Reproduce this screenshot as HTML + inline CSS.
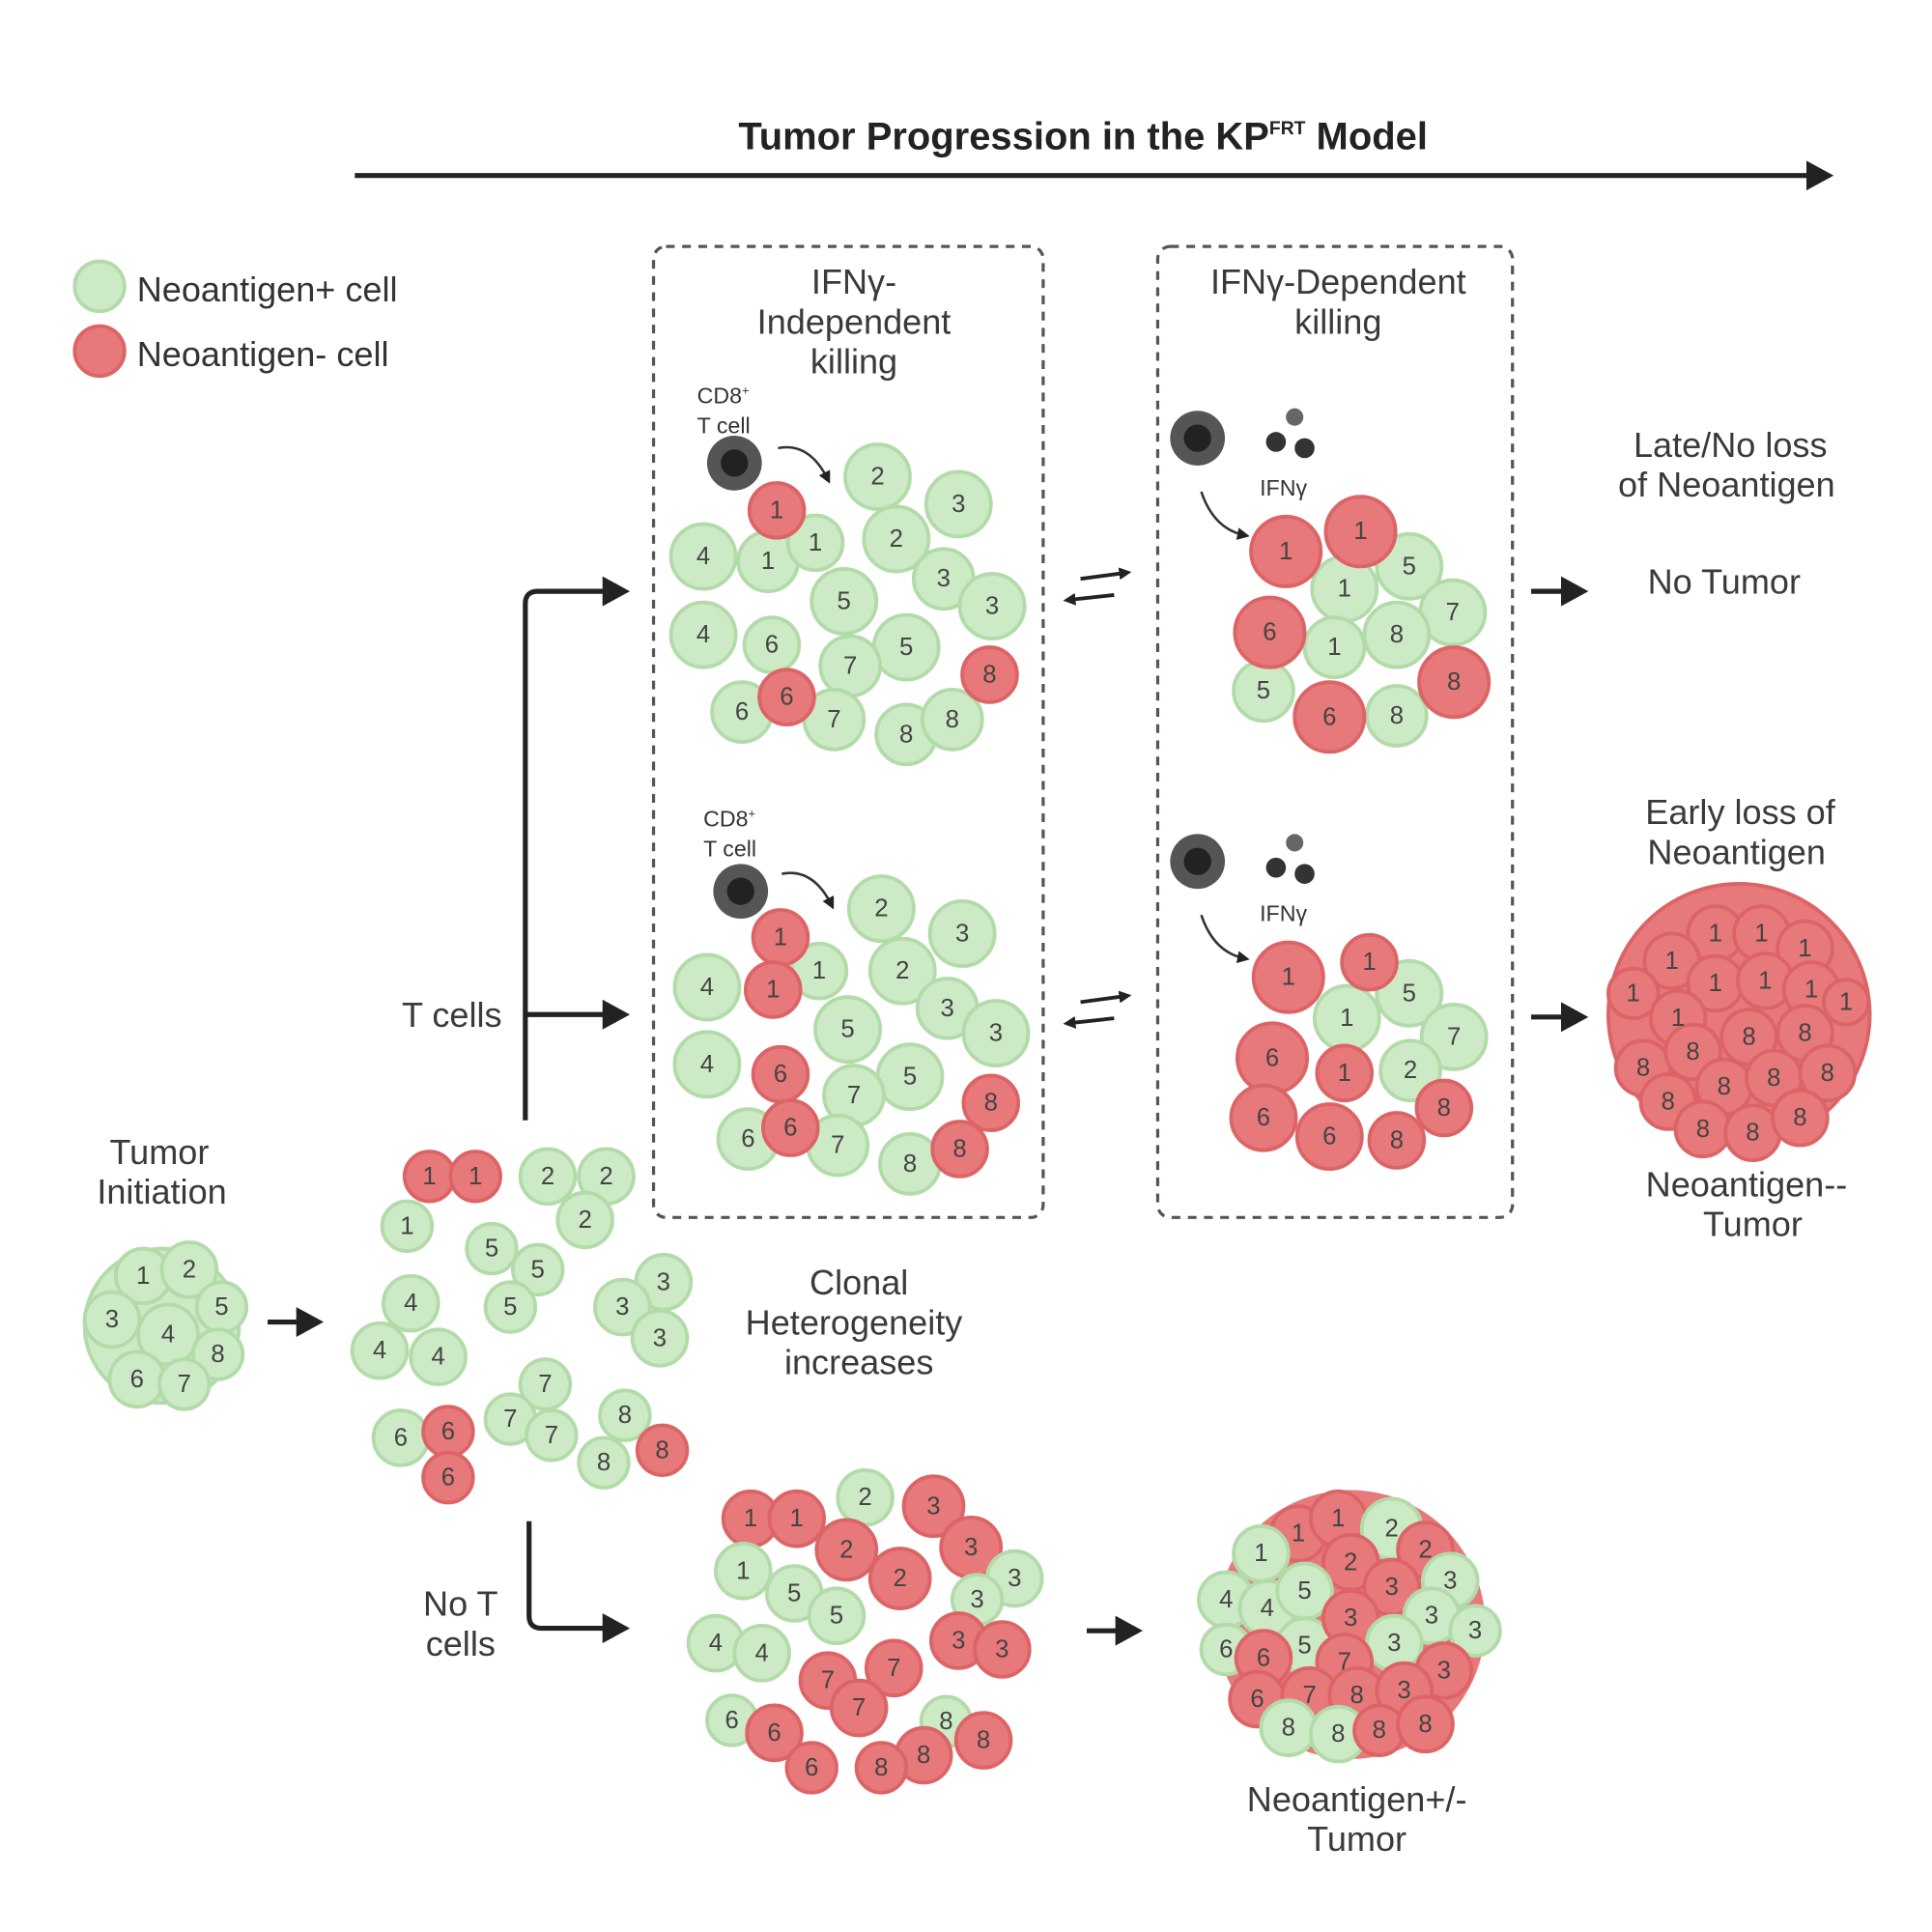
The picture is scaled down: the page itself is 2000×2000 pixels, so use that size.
<!DOCTYPE html>
<html><head><meta charset="utf-8"><style>
html,body{margin:0;padding:0;background:#fff}
svg{display:block}
text{font-family:"Liberation Sans",sans-serif;fill:#333}
.g{fill:#cdeac6;stroke:#b3dbaa;stroke-width:3}
.r{fill:#e8797b;stroke:#dc6466;stroke-width:3}
.n{font-size:20px;text-anchor:middle;dominant-baseline:central;fill:#444}
.l{font-size:28px;text-anchor:middle;fill:#3a3a3a}
</style></head><body>
<svg width="2000" height="2000" viewBox="0 0 1552 1552" xmlns="http://www.w3.org/2000/svg">
<defs><marker id="a" markerWidth="10" markerHeight="10" refX="6" refY="5" orient="auto" markerUnits="userSpaceOnUse"><path d="M0,0 L10,5 L0,10 z" fill="#222"/></marker>
<marker id="b" markerWidth="24" markerHeight="24" refX="14" refY="12" orient="auto" markerUnits="userSpaceOnUse"><path d="M0,0 L22,12 L0,24 z" fill="#222"/></marker></defs>

<text x="870" y="120" class="l" style="font-weight:bold;font-size:31px;fill:#222">Tumor Progression in the KP<tspan font-size="15" dy="-12">FRT</tspan><tspan dy="12"> Model</tspan></text>
<line x1="285" y1="141" x2="1465" y2="141" stroke="#222" stroke-width="4" marker-end="url(#b)"/>

<circle cx="80" cy="230" r="20" class="g"/><text x="110" y="242" style="font-size:28px">Neoantigen+ cell</text>
<circle cx="80" cy="282" r="20" class="r"/><text x="110" y="294" style="font-size:28px">Neoantigen- cell</text>

<rect x="525" y="198" width="313" height="780" rx="10" fill="none" stroke="#555" stroke-width="2.5" stroke-dasharray="7,6"/>
<rect x="930" y="198" width="285" height="780" rx="10" fill="none" stroke="#555" stroke-width="2.5" stroke-dasharray="7,6"/>
<text class="l" x="686" y="236">IFNγ-</text><text class="l" x="686" y="268">Independent</text><text class="l" x="686" y="300">killing</text>
<text class="l" x="1075" y="236">IFNγ-Dependent</text><text class="l" x="1075" y="268">killing</text>

<!-- panel A top -->
<g>
<text x="560" y="324" style="font-size:18px">CD8<tspan font-size="10" dy="-7">+</tspan></text><text x="560" y="348" style="font-size:18px">T cell</text>
<circle cx="590" cy="372" r="22" fill="#555"/><circle cx="590" cy="372" r="11" fill="#222"/>
<path d="M625,360 Q650,355 665,385" fill="none" stroke="#333" stroke-width="2" marker-end="url(#a)"/>
<circle cx="705" cy="383" r="26" class="g"/><circle cx="770" cy="405" r="26" class="g"/><circle cx="720" cy="433" r="26" class="g"/>
<circle cx="565" cy="447" r="26" class="g"/><circle cx="617" cy="451" r="24" class="g"/><circle cx="655" cy="436" r="22" class="g"/>
<circle cx="758" cy="465" r="24" class="g"/><circle cx="797" cy="487" r="26" class="g"/><circle cx="678" cy="483" r="26" class="g"/>
<circle cx="565" cy="510" r="26" class="g"/><circle cx="620" cy="518" r="22" class="g"/><circle cx="728" cy="520" r="26" class="g"/>
<circle cx="683" cy="535" r="24" class="g"/><circle cx="596" cy="572" r="24" class="g"/><circle cx="670" cy="578" r="24" class="g"/>
<circle cx="728" cy="590" r="24" class="g"/><circle cx="765" cy="578" r="24" class="g"/>
<circle cx="624" cy="410" r="22" class="r"/><circle cx="632" cy="560" r="22" class="r"/><circle cx="795" cy="542" r="22" class="r"/>
<text class="n" x="705" y="383">2</text><text class="n" x="770" y="405">3</text><text class="n" x="720" y="433">2</text><text class="n" x="565" y="447">4</text><text class="n" x="617" y="451">1</text><text class="n" x="655" y="436">1</text><text class="n" x="758" y="465">3</text><text class="n" x="797" y="487">3</text><text class="n" x="678" y="483">5</text><text class="n" x="565" y="510">4</text><text class="n" x="620" y="518">6</text><text class="n" x="728" y="520">5</text><text class="n" x="683" y="535">7</text><text class="n" x="596" y="572">6</text><text class="n" x="670" y="578">7</text><text class="n" x="728" y="590">8</text><text class="n" x="765" y="578">8</text><text class="n" x="624" y="410">1</text><text class="n" x="632" y="560">6</text><text class="n" x="795" y="542">8</text>
</g>
<!-- panel A bottom -->
<g transform="translate(3,340)">
<text x="562" y="324" style="font-size:18px">CD8<tspan font-size="10" dy="-7">+</tspan></text><text x="562" y="348" style="font-size:18px">T cell</text>
<circle cx="592" cy="376" r="22" fill="#555"/><circle cx="592" cy="376" r="11" fill="#222"/>
<path d="M625,362 Q650,357 665,387" fill="none" stroke="#333" stroke-width="2" marker-end="url(#a)"/>
<circle cx="705" cy="390" r="26" class="g"/><circle cx="770" cy="410" r="26" class="g"/><circle cx="722" cy="440" r="26" class="g"/>
<circle cx="565" cy="453" r="26" class="g"/><circle cx="655" cy="440" r="22" class="g"/>
<circle cx="758" cy="470" r="24" class="g"/><circle cx="797" cy="490" r="26" class="g"/><circle cx="678" cy="487" r="26" class="g"/>
<circle cx="565" cy="515" r="26" class="g"/><circle cx="728" cy="525" r="26" class="g"/>
<circle cx="683" cy="540" r="24" class="g"/><circle cx="598" cy="575" r="24" class="g"/><circle cx="670" cy="580" r="24" class="g"/>
<circle cx="728" cy="595" r="24" class="g"/>
<circle cx="624" cy="413" r="22" class="r"/><circle cx="618" cy="455" r="22" class="r"/><circle cx="624" cy="523" r="22" class="r"/><circle cx="632" cy="566" r="22" class="r"/><circle cx="793" cy="546" r="22" class="r"/><circle cx="768" cy="583" r="22" class="r"/>
<text class="n" x="705" y="390">2</text><text class="n" x="770" y="410">3</text><text class="n" x="722" y="440">2</text><text class="n" x="565" y="453">4</text><text class="n" x="655" y="440">1</text><text class="n" x="758" y="470">3</text><text class="n" x="797" y="490">3</text><text class="n" x="678" y="487">5</text><text class="n" x="565" y="515">4</text><text class="n" x="728" y="525">5</text><text class="n" x="683" y="540">7</text><text class="n" x="598" y="575">6</text><text class="n" x="670" y="580">7</text><text class="n" x="728" y="595">8</text><text class="n" x="624" y="413">1</text><text class="n" x="618" y="455">1</text><text class="n" x="624" y="523">6</text><text class="n" x="632" y="566">6</text><text class="n" x="793" y="546">8</text><text class="n" x="768" y="583">8</text>
</g>

<!-- panel B top -->
<g>
<circle cx="962" cy="352" r="22" fill="#555"/><circle cx="962" cy="352" r="11" fill="#222"/>
<circle cx="1040" cy="335" r="7" fill="#666"/><circle cx="1025" cy="355" r="8" fill="#333"/><circle cx="1048" cy="360" r="8" fill="#333"/>
<text x="1012" y="398" style="font-size:18px">IFNγ</text>
<path d="M965,395 Q975,425 1000,430" fill="none" stroke="#333" stroke-width="2" marker-end="url(#a)"/>
<circle cx="1132" cy="455" r="26" class="g"/><circle cx="1080" cy="473" r="26" class="g"/><circle cx="1167" cy="492" r="26" class="g"/>
<circle cx="1122" cy="510" r="26" class="g"/><circle cx="1072" cy="520" r="24" class="g"/><circle cx="1015" cy="555" r="24" class="g"/><circle cx="1122" cy="575" r="24" class="g"/>
<circle cx="1033" cy="443" r="28" class="r"/><circle cx="1093" cy="427" r="28" class="r"/><circle cx="1020" cy="508" r="28" class="r"/><circle cx="1168" cy="548" r="28" class="r"/><circle cx="1068" cy="576" r="28" class="r"/>
<text class="n" x="1132" y="455">5</text><text class="n" x="1080" y="473">1</text><text class="n" x="1167" y="492">7</text><text class="n" x="1122" y="510">8</text><text class="n" x="1072" y="520">1</text><text class="n" x="1015" y="555">5</text><text class="n" x="1122" y="575">8</text><text class="n" x="1033" y="443">1</text><text class="n" x="1093" y="427">1</text><text class="n" x="1020" y="508">6</text><text class="n" x="1168" y="548">8</text><text class="n" x="1068" y="576">6</text>
</g>
<!-- panel B bottom -->
<g>
<circle cx="962" cy="692" r="22" fill="#555"/><circle cx="962" cy="692" r="11" fill="#222"/>
<circle cx="1040" cy="677" r="7" fill="#666"/><circle cx="1025" cy="697" r="8" fill="#333"/><circle cx="1048" cy="702" r="8" fill="#333"/>
<text x="1012" y="740" style="font-size:18px">IFNγ</text>
<path d="M965,735 Q975,765 1000,770" fill="none" stroke="#333" stroke-width="2" marker-end="url(#a)"/>
<circle cx="1132" cy="798" r="26" class="g"/><circle cx="1082" cy="818" r="26" class="g"/><circle cx="1168" cy="833" r="26" class="g"/><circle cx="1133" cy="860" r="24" class="g"/>
<circle cx="1035" cy="785" r="28" class="r"/><circle cx="1100" cy="773" r="22" class="r"/><circle cx="1022" cy="850" r="28" class="r"/><circle cx="1080" cy="862" r="22" class="r"/><circle cx="1015" cy="898" r="26" class="r"/><circle cx="1068" cy="913" r="26" class="r"/><circle cx="1122" cy="916" r="22" class="r"/><circle cx="1160" cy="890" r="22" class="r"/>
<text class="n" x="1132" y="798">5</text><text class="n" x="1082" y="818">1</text><text class="n" x="1168" y="833">7</text><text class="n" x="1133" y="860">2</text><text class="n" x="1035" y="785">1</text><text class="n" x="1100" y="773">1</text><text class="n" x="1022" y="850">6</text><text class="n" x="1080" y="862">1</text><text class="n" x="1015" y="898">6</text><text class="n" x="1068" y="913">6</text><text class="n" x="1122" y="916">8</text><text class="n" x="1160" y="890">8</text>
</g>

<!-- double arrows -->
<g stroke="#222" stroke-width="3" fill="none">
<line x1="868" y1="465" x2="905" y2="460" marker-end="url(#a)"/><line x1="895" y1="478" x2="858" y2="482" marker-end="url(#a)"/>
<line x1="868" y1="805" x2="905" y2="800" marker-end="url(#a)"/><line x1="895" y1="818" x2="858" y2="822" marker-end="url(#a)"/>
<line x1="1230" y1="475" x2="1268" y2="475" stroke-width="4" marker-end="url(#b)"/>
<line x1="1230" y1="817" x2="1268" y2="817" stroke-width="4" marker-end="url(#b)"/>
<path d="M422,900 V485 Q422,475 432,475 H498" stroke-width="4" marker-end="url(#b)"/>
<line x1="422" y1="815" x2="498" y2="815" stroke-width="4" marker-end="url(#b)"/>
<path d="M425,1222 V1298 Q425,1308 435,1308 H498" stroke-width="4" marker-end="url(#b)"/>
<line x1="215" y1="1062" x2="252" y2="1062" stroke-width="4" marker-end="url(#b)"/>
<line x1="873" y1="1310" x2="910" y2="1310" stroke-width="4" marker-end="url(#b)"/>
</g>

<text class="l" x="1390" y="367">Late/No loss</text><text class="l" x="1387" y="399">of Neoantigen</text>
<text class="l" x="1385" y="477">No Tumor</text>
<text class="l" x="1398" y="662">Early loss of</text><text class="l" x="1395" y="694">Neoantigen</text>
<text class="l" x="1403" y="961">Neoantigen--</text><text class="l" x="1408" y="993">Tumor</text>
<text class="l" x="363" y="825">T cells</text>
<text class="l" x="128" y="935">Tumor</text><text class="l" x="130" y="967">Initiation</text>
<text class="l" x="690" y="1040">Clonal</text><text class="l" x="686" y="1072">Heterogeneity</text><text class="l" x="690" y="1104">increases</text>
<text class="l" x="370" y="1298">No T</text><text class="l" x="370" y="1330">cells</text>
<text class="l" x="1090" y="1455">Neoantigen+/-</text><text class="l" x="1090" y="1487">Tumor</text>

<!-- big red tumor -->
<circle cx="1397" cy="815" r="105" class="r"/>
<g class="r">
<circle cx="1378" cy="750" r="22"/><circle cx="1415" cy="750" r="22"/><circle cx="1450" cy="762" r="22"/><circle cx="1343" cy="772" r="22"/>
<circle cx="1378" cy="790" r="22"/><circle cx="1418" cy="788" r="22"/><circle cx="1455" cy="795" r="22"/><circle cx="1312" cy="798" r="20"/><circle cx="1483" cy="805" r="18"/>
<circle cx="1348" cy="818" r="22"/><circle cx="1405" cy="833" r="22"/><circle cx="1450" cy="830" r="22"/>
<circle cx="1320" cy="858" r="22"/><circle cx="1360" cy="845" r="22"/><circle cx="1385" cy="873" r="22"/><circle cx="1425" cy="866" r="22"/><circle cx="1468" cy="862" r="22"/>
<circle cx="1340" cy="885" r="22"/><circle cx="1368" cy="907" r="22"/><circle cx="1408" cy="910" r="22"/><circle cx="1446" cy="898" r="22"/>
</g>
<g>
<text class="n" x="1378" y="750">1</text><text class="n" x="1415" y="750">1</text><text class="n" x="1450" y="762">1</text><text class="n" x="1343" y="772">1</text><text class="n" x="1378" y="790">1</text><text class="n" x="1418" y="788">1</text><text class="n" x="1455" y="795">1</text><text class="n" x="1312" y="798">1</text><text class="n" x="1483" y="805">1</text><text class="n" x="1348" y="818">1</text><text class="n" x="1405" y="833">8</text><text class="n" x="1450" y="830">8</text><text class="n" x="1320" y="858">8</text><text class="n" x="1360" y="845">8</text><text class="n" x="1385" y="873">8</text><text class="n" x="1425" y="866">8</text><text class="n" x="1468" y="862">8</text><text class="n" x="1340" y="885">8</text><text class="n" x="1368" y="907">8</text><text class="n" x="1408" y="910">8</text><text class="n" x="1446" y="898">8</text>
</g>

<!-- initiation cluster -->
<g>
<circle cx="130" cy="1065" r="62" class="g"/>
<circle cx="115" cy="1025" r="22" class="g"/><circle cx="152" cy="1020" r="22" class="g"/><circle cx="178" cy="1050" r="20" class="g"/><circle cx="90" cy="1060" r="22" class="g"/><circle cx="135" cy="1072" r="24" class="g"/><circle cx="175" cy="1088" r="20" class="g"/><circle cx="110" cy="1108" r="22" class="g"/><circle cx="148" cy="1112" r="20" class="g"/>
<text class="n" x="115" y="1025">1</text><text class="n" x="152" y="1020">2</text><text class="n" x="178" y="1050">5</text><text class="n" x="90" y="1060">3</text><text class="n" x="135" y="1072">4</text><text class="n" x="175" y="1088">8</text><text class="n" x="110" y="1108">6</text><text class="n" x="148" y="1112">7</text>
</g>

<!-- heterogeneity scattered -->
<g>
<circle cx="345" cy="945" r="20" class="r"/><circle cx="382" cy="945" r="20" class="r"/><circle cx="327" cy="985" r="20" class="g"/>
<circle cx="440" cy="945" r="22" class="g"/><circle cx="487" cy="945" r="22" class="g"/><circle cx="470" cy="980" r="22" class="g"/>
<circle cx="395" cy="1003" r="20" class="g"/><circle cx="432" cy="1020" r="20" class="g"/><circle cx="410" cy="1050" r="20" class="g"/>
<circle cx="330" cy="1047" r="22" class="g"/><circle cx="305" cy="1085" r="22" class="g"/><circle cx="352" cy="1090" r="22" class="g"/>
<circle cx="533" cy="1030" r="22" class="g"/><circle cx="500" cy="1050" r="22" class="g"/><circle cx="530" cy="1075" r="22" class="g"/>
<circle cx="438" cy="1112" r="20" class="g"/><circle cx="410" cy="1140" r="20" class="g"/><circle cx="443" cy="1153" r="20" class="g"/>
<circle cx="322" cy="1155" r="22" class="g"/><circle cx="360" cy="1150" r="20" class="r"/><circle cx="360" cy="1187" r="20" class="r"/>
<circle cx="502" cy="1137" r="20" class="g"/><circle cx="485" cy="1175" r="20" class="g"/><circle cx="532" cy="1165" r="20" class="r"/>
<text class="n" x="345" y="945">1</text><text class="n" x="382" y="945">1</text><text class="n" x="327" y="985">1</text><text class="n" x="440" y="945">2</text><text class="n" x="487" y="945">2</text><text class="n" x="470" y="980">2</text><text class="n" x="395" y="1003">5</text><text class="n" x="432" y="1020">5</text><text class="n" x="410" y="1050">5</text><text class="n" x="330" y="1047">4</text><text class="n" x="305" y="1085">4</text><text class="n" x="352" y="1090">4</text><text class="n" x="533" y="1030">3</text><text class="n" x="500" y="1050">3</text><text class="n" x="530" y="1075">3</text><text class="n" x="438" y="1112">7</text><text class="n" x="410" y="1140">7</text><text class="n" x="443" y="1153">7</text><text class="n" x="322" y="1155">6</text><text class="n" x="360" y="1150">6</text><text class="n" x="360" y="1187">6</text><text class="n" x="502" y="1137">8</text><text class="n" x="485" y="1175">8</text><text class="n" x="532" y="1165">8</text>
</g>

<!-- no T cells cluster -->
<g>
<circle cx="603" cy="1220" r="22" class="r"/><circle cx="640" cy="1220" r="22" class="r"/><circle cx="695" cy="1203" r="22" class="g"/><circle cx="750" cy="1210" r="24" class="r"/>
<circle cx="680" cy="1245" r="24" class="r"/><circle cx="723" cy="1268" r="24" class="r"/><circle cx="780" cy="1243" r="24" class="r"/><circle cx="815" cy="1268" r="22" class="g"/>
<circle cx="597" cy="1262" r="22" class="g"/><circle cx="638" cy="1280" r="22" class="g"/><circle cx="672" cy="1298" r="22" class="g"/><circle cx="785" cy="1285" r="20" class="g"/>
<circle cx="575" cy="1320" r="22" class="g"/><circle cx="612" cy="1328" r="22" class="g"/><circle cx="770" cy="1318" r="22" class="r"/><circle cx="805" cy="1325" r="22" class="r"/>
<circle cx="665" cy="1350" r="22" class="r"/><circle cx="718" cy="1340" r="22" class="r"/><circle cx="690" cy="1372" r="22" class="r"/>
<circle cx="588" cy="1382" r="20" class="g"/><circle cx="622" cy="1392" r="22" class="r"/><circle cx="652" cy="1420" r="20" class="r"/>
<circle cx="760" cy="1383" r="20" class="g"/><circle cx="790" cy="1398" r="22" class="r"/><circle cx="742" cy="1410" r="22" class="r"/><circle cx="708" cy="1420" r="20" class="r"/>
<text class="n" x="603" y="1220">1</text><text class="n" x="640" y="1220">1</text><text class="n" x="695" y="1203">2</text><text class="n" x="750" y="1210">3</text><text class="n" x="680" y="1245">2</text><text class="n" x="723" y="1268">2</text><text class="n" x="780" y="1243">3</text><text class="n" x="815" y="1268">3</text><text class="n" x="597" y="1262">1</text><text class="n" x="638" y="1280">5</text><text class="n" x="672" y="1298">5</text><text class="n" x="785" y="1285">3</text><text class="n" x="575" y="1320">4</text><text class="n" x="612" y="1328">4</text><text class="n" x="770" y="1318">3</text><text class="n" x="805" y="1325">3</text><text class="n" x="665" y="1350">7</text><text class="n" x="718" y="1340">7</text><text class="n" x="690" y="1372">7</text><text class="n" x="588" y="1382">6</text><text class="n" x="622" y="1392">6</text><text class="n" x="652" y="1420">6</text><text class="n" x="760" y="1383">8</text><text class="n" x="790" y="1398">8</text><text class="n" x="742" y="1410">8</text><text class="n" x="708" y="1420">8</text>
</g>

<!-- mixed tumor -->
<g>
<circle cx="1085" cy="1305" r="108" fill="#e8797b"/>
<circle cx="1043" cy="1232" r="22" class="r"/><circle cx="1075" cy="1220" r="22" class="r"/><circle cx="1118" cy="1228" r="24" class="g"/><circle cx="1145" cy="1245" r="22" class="r"/>
<circle cx="1013" cy="1248" r="22" class="g"/><circle cx="1085" cy="1255" r="22" class="r"/><circle cx="1165" cy="1270" r="22" class="g"/>
<circle cx="985" cy="1285" r="22" class="g"/><circle cx="1018" cy="1292" r="22" class="g"/><circle cx="1048" cy="1278" r="22" class="g"/><circle cx="1118" cy="1275" r="22" class="r"/><circle cx="1150" cy="1298" r="22" class="g"/><circle cx="1185" cy="1310" r="20" class="g"/>
<circle cx="985" cy="1325" r="20" class="g"/><circle cx="1048" cy="1322" r="22" class="g"/><circle cx="1085" cy="1300" r="22" class="r"/><circle cx="1120" cy="1320" r="22" class="g"/><circle cx="1160" cy="1342" r="22" class="r"/>
<circle cx="1015" cy="1332" r="22" class="r"/><circle cx="1080" cy="1335" r="22" class="r"/>
<circle cx="1010" cy="1365" r="22" class="r"/><circle cx="1052" cy="1362" r="22" class="r"/><circle cx="1090" cy="1362" r="22" class="r"/><circle cx="1128" cy="1358" r="22" class="r"/>
<circle cx="1035" cy="1388" r="22" class="g"/><circle cx="1075" cy="1393" r="22" class="g"/><circle cx="1108" cy="1390" r="20" class="r"/><circle cx="1145" cy="1385" r="22" class="r"/>
<text class="n" x="1043" y="1232">1</text><text class="n" x="1075" y="1220">1</text><text class="n" x="1118" y="1228">2</text><text class="n" x="1145" y="1245">2</text><text class="n" x="1013" y="1248">1</text><text class="n" x="1085" y="1255">2</text><text class="n" x="1165" y="1270">3</text><text class="n" x="985" y="1285">4</text><text class="n" x="1018" y="1292">4</text><text class="n" x="1048" y="1278">5</text><text class="n" x="1118" y="1275">3</text><text class="n" x="1150" y="1298">3</text><text class="n" x="1185" y="1310">3</text><text class="n" x="985" y="1325">6</text><text class="n" x="1048" y="1322">5</text><text class="n" x="1085" y="1300">3</text><text class="n" x="1120" y="1320">3</text><text class="n" x="1160" y="1342">3</text><text class="n" x="1015" y="1332">6</text><text class="n" x="1080" y="1335">7</text><text class="n" x="1010" y="1365">6</text><text class="n" x="1052" y="1362">7</text><text class="n" x="1090" y="1362">8</text><text class="n" x="1128" y="1358">3</text><text class="n" x="1035" y="1388">8</text><text class="n" x="1075" y="1393">8</text><text class="n" x="1108" y="1390">8</text><text class="n" x="1145" y="1385">8</text>
</g>
</svg>
</body></html>
